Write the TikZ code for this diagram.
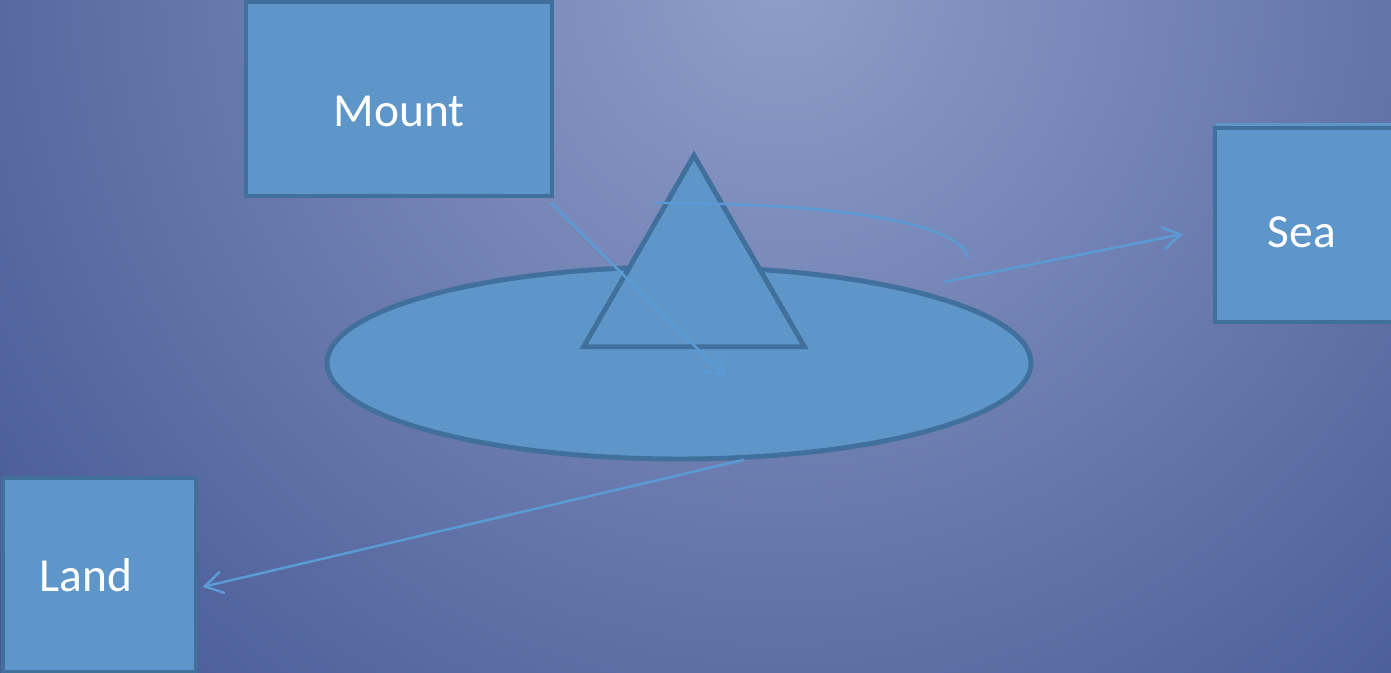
\documentclass[tikz,border=0pt]{standalone}
\usepackage{fontspec}
\setmainfont{Carlito}
\usetikzlibrary{arrows.meta,shapes.geometric}
\definecolor{bgLight}{HTML}{8E9DC8}
\definecolor{bgDark}{HTML}{485A96}
\definecolor{shapeFill}{HTML}{5E96C9}
\definecolor{shapeLine}{HTML}{41709C}
\definecolor{linkLine}{HTML}{5B9BD5}

\begin{document}
\begin{tikzpicture}[>={Straight Barb[length=1.8mm,width=2.2mm]},
 font=\fontsize{13.5}{16}\selectfont,
 box/.style={draw=shapeLine,fill=shapeFill,line width=1.4pt,inner sep=0pt},
 boxtext/.style={text=white},
 link/.style={->,draw=linkLine,line width=0.7pt}]
\useasboundingbox (0,0) rectangle (13.91,6.73);
\begin{scope}
\clip (0,0) rectangle (13.91,6.73);
\fill[bgDark] (0,0) rectangle (13.91,6.73);
\shade[inner color=bgLight,outer color=bgDark] (7.8,6.9) circle (10);
\end{scope}
% boxes
\node[box,minimum width=3.06cm,minimum height=1.94cm,
 label={[boxtext,yshift=-0.12cm]center:Mount}] (mount) at (3.99,5.74) {};
\fill[shapeFill] (12.16,4.45) rectangle (14.0,5.50);
\node[box,minimum width=1.82cm,minimum height=1.94cm,
 label={[boxtext,xshift=-0.04cm,yshift=-0.07cm]center:Sea}] (sea) at (13.06,4.48) {};
\node[box,minimum width=1.93cm,minimum height=1.94cm,
 label={[boxtext,xshift=-0.135cm]center:Land}] (land) at (0.995,0.98) {};
% island
\node[box,ellipse,minimum width=7.04cm,minimum height=1.92cm] (disk) at (6.79,3.10) {};
\node[box,regular polygon,regular polygon sides=3,minimum size=2.55cm] (peak) at (6.94,3.90) {};
% links
\coordinate (mtip) at (7.26,2.96);
\coordinate (stail) at (9.44,3.91);
\coordinate (stip) at (11.83,4.39);
\coordinate (arcstart) at (6.55,4.70);
\coordinate (arcend) at (9.68,4.15);
\draw[link] ([shift={(-0.04,-0.04)}]mount.south east)--(mtip);
\draw[link] (stail)--(stip);
\draw[link] (disk.-56.3)--([shift={(0.04,-0.12)}]land.east);
\draw[linkLine,line width=0.7pt] (arcstart) .. controls (8.50,4.70) and (9.62,4.48) .. (arcend);
\end{tikzpicture}
\end{document}
